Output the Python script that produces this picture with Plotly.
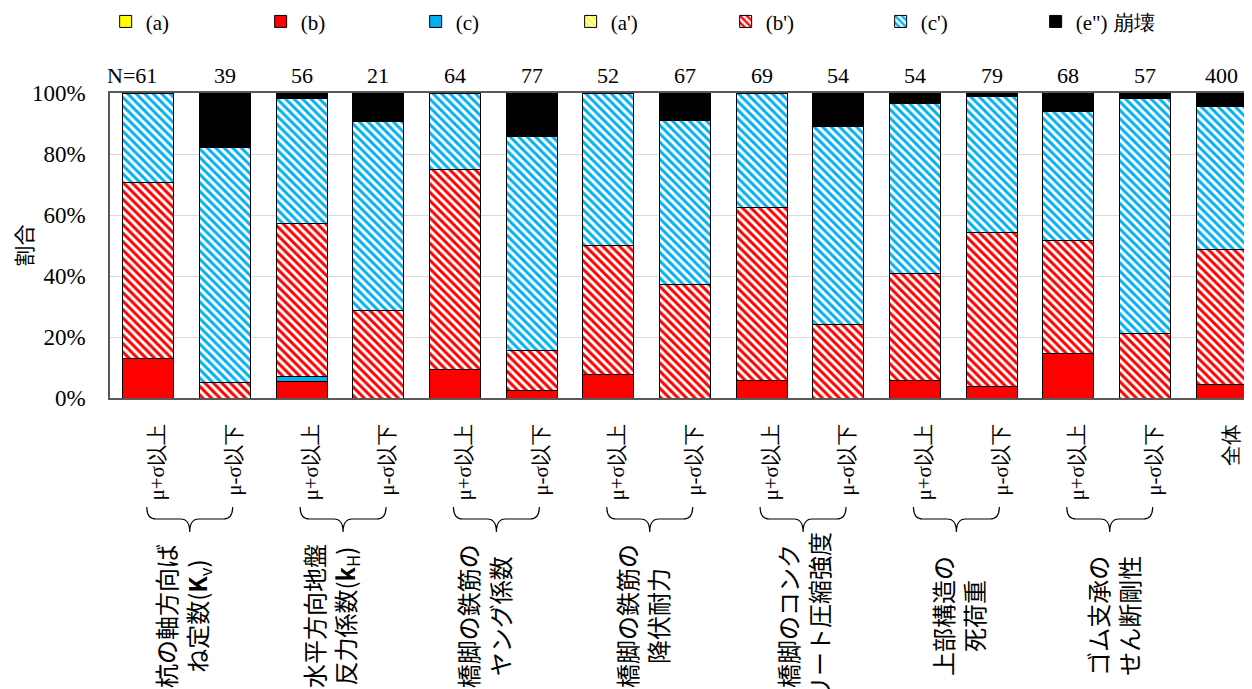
import plotly.graph_objects as go

# ---------------- data ----------------
categories = ["μ+σ以上", "μ-σ以下", "μ+σ以上", "μ-σ以下", "μ+σ以上", "μ-σ以下",
              "μ+σ以上", "μ-σ以下", "μ+σ以上", "μ-σ以下", "μ+σ以上", "μ-σ以下",
              "μ+σ以上", "μ-σ以下", "全体"]
n_counts = [61, 39, 56, 21, 64, 77, 52, 67, 69, 54, 54, 79, 68, 57, 400]

a_vals   = [0, 0, 0, 0, 0, 0, 0, 0, 0, 0, 0, 0, 0, 0, 0]
b_vals   = [13.1, 0, 5.4, 0, 9.4, 2.6, 7.7, 0, 5.8, 0, 5.6, 3.8, 14.7, 0, 4.4]
c_vals   = [0, 0, 1.8, 0, 0, 0, 0, 0, 0, 0, 0, 0, 0, 0, 0]
a2_vals  = [0, 0, 0, 0, 0, 0, 0, 0, 0, 0, 0, 0, 0, 0, 0]
b2_vals  = [57.4, 5.1, 50.0, 28.6, 65.6, 13.0, 42.3, 37.3, 56.5, 24.1, 35.2, 50.6, 36.8, 21.1, 44.4]
c2_vals  = [29.5, 76.9, 41.1, 61.9, 25.0, 70.1, 50.0, 53.7, 37.7, 64.8, 55.6, 44.3, 42.6, 77.2, 46.8]
e_vals   = [0, 17.9, 1.8, 9.5, 0, 14.3, 0, 9.0, 0, 11.1, 3.7, 1.3, 5.9, 1.8, 4.4]

group_labels = [
    "杭の軸方向ば<br>ね定数(<b>K</b><sub>v</sub>)",
    "水平方向地盤<br>反力係数(<b>k</b><sub>H</sub>)",
    "橋脚の鉄筋の<br>ヤング係数",
    "橋脚の鉄筋の<br>降伏耐力",
    "橋脚のコンク<br>リート圧縮強度",
    "上部構造の<br>死荷重",
    "ゴム支承の<br>せん断剛性",
]
y_ticks = [0, 20, 40, 60, 80, 100]

# ---------------- styling ----------------
FONT = "Liberation Serif"
JFONT = "Noto Sans CJK JP"
RED = "#FF0000"
CYAN = "#00B0F0"
YEL = "#FFFF00"
label_dx = [-0.1, -0.17, -0.17, -0.1, 0.0, 0.02, 0.04]   # label nudges (category units)

x = list(range(len(categories)))

series = [
    ("(a)", a_vals, YEL, None),
    ("(b)", b_vals, RED, None),
    ("(c)", c_vals, CYAN, None),
    ("(a')", a2_vals, YEL, "hatch"),
    ("(b')", b2_vals, RED, "hatch"),
    ("(c')", c2_vals, CYAN, "hatch"),
    ("(e\") 崩壊", e_vals, "#000000", None),
]

fig = go.Figure()
for name, vals, col, kind in series:
    if kind == "hatch":
        marker = dict(color="white",
                      pattern=dict(shape="\\", fgcolor=col, bgcolor="white",
                                   size=6, solidity=0.5, fillmode="replace"),
                      line=dict(color="#000000", width=1))
    else:
        marker = dict(color=col, line=dict(color="#000000", width=1))
    fig.add_trace(go.Bar(x=x, y=vals, name=name, marker=marker, width=0.665))

# N labels
for i, n in enumerate(n_counts):
    fig.add_annotation(x=i, y=1.059, xref="x", yref="paper",
                       text=(f"N={n}" if i == 0 else str(n)),
                       xanchor=("right" if i == 0 else "center"), yanchor="middle",
                       xshift=(11 if i == 0 else 0),
                       showarrow=False, font=dict(family=FONT, size=22, color="black"))

# braces and group labels (plot area spans page pixels 93..398 vertically)
def py(p):
    return (398 - p) / 305.0

for g, lab in enumerate(group_labels):
    xl = 2 * g - 0.02
    xr = 2 * g + 1 + 0.1
    xc = (xl + xr) / 2
    yt, ym, yb = py(507), py(519), py(532)
    r = 0.12
    path = (f"M{xl},{yt} Q{xl},{ym} {xl + r},{ym} L{xc - r},{ym} "
            f"Q{xc},{ym} {xc},{yb} Q{xc},{ym} {xc + r},{ym} "
            f"L{xr - r},{ym} Q{xr},{ym} {xr},{yt}")
    fig.add_shape(type="path", path=path, xref="x", yref="paper",
                  line=dict(color="#000000", width=1.2))
    fig.add_annotation(x=xc + label_dx[g], y=py(616), xref="x", yref="paper", text=lab,
                       textangle=-90, showarrow=False, align="center",
                       xanchor="center", yanchor="middle",
                       font=dict(family=JFONT, size=24, color="black"))

fig.update_layout(
    width=1252, height=689,
    barmode="stack",
    bargap=0.34,
    plot_bgcolor="white", paper_bgcolor="white",
    margin=dict(l=102, r=0, t=85, b=299, pad=0, autoexpand=False),
    font=dict(family=FONT, size=20, color="black"),
    legend=dict(orientation="h", xref="container", yref="container",
                x=0.078, y=0.98, xanchor="left", yanchor="middle",
                entrywidth=110, entrywidthmode="pixels",
                font=dict(family=FONT, size=21, color="black"),
                traceorder="normal", itemclick=False),
    xaxis=dict(range=[-0.5, 14.5], tickmode="array",
               tickvals=[v + 0.12 for v in x], ticktext=categories,
               tickangle=-90, ticklabelstandoff=16, showgrid=False, automargin=False,
               showline=True, linecolor="#595959", linewidth=1.5, mirror=True,
               tickfont=dict(family=FONT, size=21, color="black"), ticks=""),
    yaxis=dict(range=[0, 100], tickmode="array", tickvals=y_ticks,
               ticktext=[f"{v}%" for v in y_ticks], automargin=False,
               showgrid=True, gridcolor="#D9D9D9", gridwidth=1,
               showline=True, linecolor="#595959", linewidth=1.5, mirror=True,
               ticklabelstandoff=18, ticks="",
               tickfont=dict(family=FONT, size=23, color="black"),
               title=dict(text="割合", standoff=4,
                          font=dict(family=JFONT, size=21, color="black"))),
)

fig.write_html("out.html")
